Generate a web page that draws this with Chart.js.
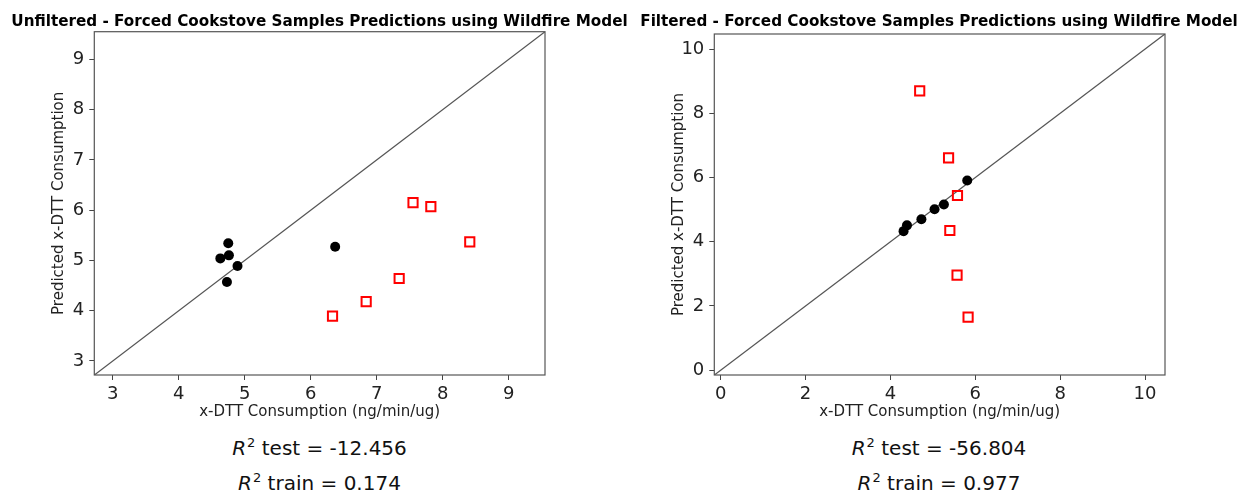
<!DOCTYPE html>
<html>
<head>
<meta charset="utf-8">
<script src="https://cdn.jsdelivr.net/npm/chart.js@4"></script>
<style>
  html, body { margin: 0; padding: 0; background: #fff; }
  body { width: 1239px; height: 491px; position: relative; overflow: hidden; font-family: "DejaVu Sans", sans-serif; }
  .panel { position: absolute; top: 0; width: 620px; height: 430px; }
  .ptitle { position: absolute; width: 700px; text-align: center; font-size: 15.2px; font-weight: bold; line-height: 18px; color: #000; white-space: nowrap; }
  .stat { position: absolute; width: 400px; text-align: center; font-size: 20px; line-height: 24px; color: #111; white-space: nowrap; }
  .stat i { font-style: italic; }
  .stat sup { font-size: 13px; vertical-align: 0; position: relative; top: -8px; margin-left: 1px; }
</style>
</head>
<body>
<div class="panel" style="left:0"><canvas id="unfiltered" width="620" height="430"></canvas></div>
<div class="panel" style="left:620px"><canvas id="filtered" width="620" height="430"></canvas></div>
<div id="labels"></div>
<script>
// Unfiltered model: training samples (circles) and forced cookstove test samples (squares)
const unfilteredTrainX = [4.75, 4.76, 4.63, 4.89, 4.73, 6.37];
const unfilteredTrainY = [5.34, 5.10, 5.04, 4.89, 4.57, 5.27];
const unfilteredTestX  = [7.55, 7.82, 8.41, 7.34, 6.84, 6.33];
const unfilteredTestY  = [6.15, 6.07, 5.37, 4.64, 4.18, 3.89];
const unfilteredLimits = [2.72, 9.55];
const unfilteredStep = 1;

// Filtered model
const filteredTrainX = [5.81, 5.26, 5.04, 4.73, 4.39, 4.31];
const filteredTrainY = [5.91, 5.16, 5.01, 4.70, 4.51, 4.33];
const filteredTestX  = [4.69, 5.37, 5.58, 5.40, 5.57, 5.83];
const filteredTestY  = [8.70, 6.61, 5.44, 4.35, 2.96, 1.65];
const filteredLimits = [-0.15, 10.47];
const filteredStep = 2;

const panelTitles = [
  'Unfiltered - Forced Cookstove Samples Predictions using Wildfire Model',
  'Filtered - Forced Cookstove Samples Predictions using Wildfire Model'
];
const xAxisLabel = 'x-DTT Consumption (ng/min/ug)';
const yAxisLabel = 'Predicted x-DTT Consumption';
const r2Test  = ['-12.456', '-56.804'];
const r2Train = ['0.174', '0.977'];

const FONT = 'DejaVu Sans';

const zip = (xs, ys) => xs.map((x, i) => ({ x, y: ys[i] }));

// Full box around the plotting area
const frame = {
  id: 'frame',
  afterDatasetsDraw(chart) {
    const { ctx, chartArea: a } = chart;
    ctx.save();
    ctx.strokeStyle = '#555';
    ctx.lineWidth = 1.2;
    ctx.strokeRect(a.left, a.top, a.right - a.left, a.bottom - a.top);
    ctx.restore();
  }
};

function axis(lims, step, label, horizontal) {
  return {
    type: 'linear',
    min: lims[0],
    max: lims[1],
    ticks: {
      stepSize: step,
      includeBounds: false,
      font: { family: FONT, size: 18 },
      color: '#222',
      padding: horizontal ? 4 : 5,
      maxRotation: 0
    },
    grid: { drawOnChartArea: false, drawTicks: true, tickLength: 5, color: '#444', lineWidth: 1 },
    border: { display: false },
    title: {
      display: true,
      text: label,
      font: { family: FONT, size: 15 },
      color: '#222',
      padding: horizontal ? { top: 0, bottom: 9 } : { top: 50, bottom: 0 }
    },
    afterFit(scale) {
      if (horizontal) scale.height = 55; else scale.width = 94.3;
    }
  };
}

function makeChart(id, trainX, trainY, testX, testY, lims, step, topGap) {
  return new Chart(document.getElementById(id), {
    type: 'scatter',
    data: {
      datasets: [
        {
          type: 'line',
          data: [{ x: lims[0], y: lims[0] }, { x: lims[1], y: lims[1] }],
          borderColor: '#555',
          borderWidth: 1.3,
          pointRadius: 0,
          fill: false,
          order: 3
        },
        {
          data: zip(trainX, trainY),
          pointStyle: 'circle',
          pointRadius: 5,
          backgroundColor: '#000',
          borderColor: '#000',
          borderWidth: 0,
          order: 2
        },
        {
          data: zip(testX, testY),
          pointStyle: 'rect',
          pointRadius: 6.5,
          backgroundColor: 'rgba(0,0,0,0)',
          borderColor: '#ff0000',
          borderWidth: 2,
          order: 1
        }
      ]
    },
    options: {
      responsive: false,
      animation: false,
      layout: { padding: { left: 0, right: 75, top: topGap, bottom: 0 } },
      plugins: {
        legend: { display: false },
        tooltip: { enabled: false },
        title: { display: false }
      },
      scales: {
        x: axis(lims, step, xAxisLabel, true),
        y: axis(lims, step, yAxisLabel, false)
      }
    },
    plugins: [frame]
  });
}

makeChart('unfiltered', unfilteredTrainX, unfilteredTrainY, unfilteredTestX, unfilteredTestY,
          unfilteredLimits, unfilteredStep, 31.7);
makeChart('filtered', filteredTrainX, filteredTrainY, filteredTestX, filteredTestY,
          filteredLimits, filteredStep, 34);

// Panel titles and R² summaries
const centers = [319.5, 939];
const holder = document.getElementById('labels');
function place(cls, cx, cy, halfW, halfH, html) {
  const d = document.createElement('div');
  d.className = cls;
  d.style.left = (cx - halfW) + 'px';
  d.style.top = (cy - halfH) + 'px';
  d.innerHTML = html;
  holder.appendChild(d);
}
centers.forEach((cx, i) => {
  place('ptitle', cx, 20.5, 350, 9, panelTitles[i]);
  place('stat', cx, 448, 200, 12, '<i>R</i><sup>2</sup> test = ' + r2Test[i]);
  place('stat', cx, 483, 200, 12, '<i>R</i><sup>2</sup> train = ' + r2Train[i]);
});
</script>
</body>
</html>
